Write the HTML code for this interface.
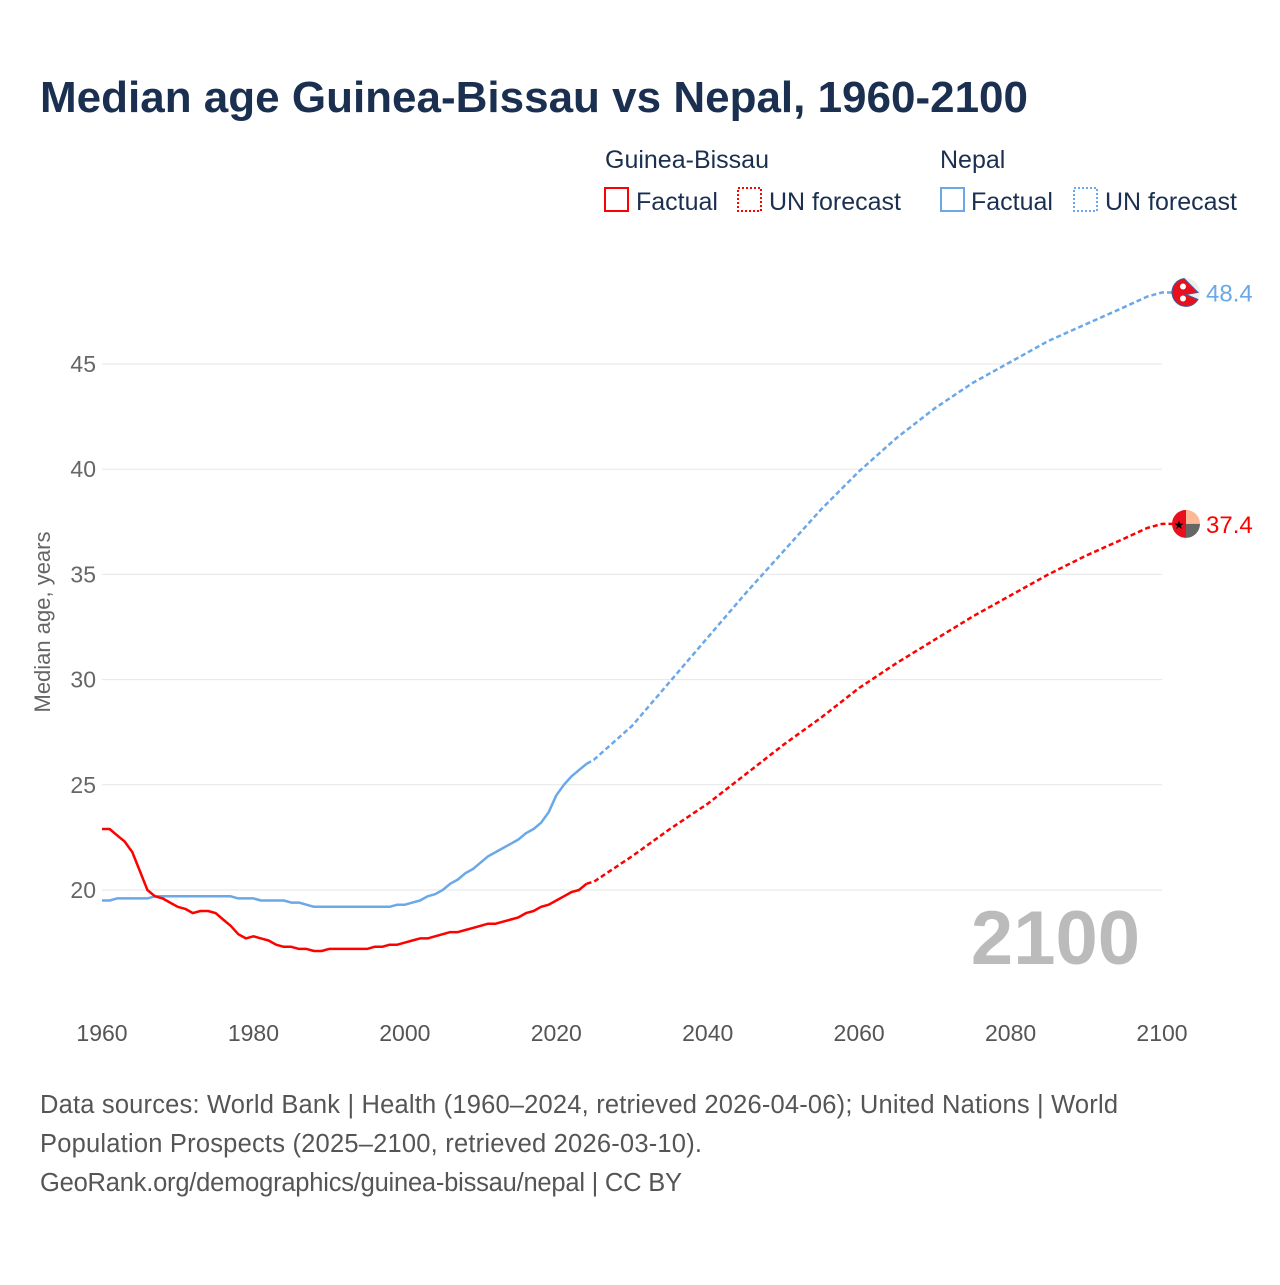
<!DOCTYPE html>
<html><head><meta charset="utf-8"><style>
body{margin:0;background:#fff;font-family:"Liberation Sans",sans-serif;}
</style></head><body>
<svg width="1280" height="1280" xmlns="http://www.w3.org/2000/svg" font-family="Liberation Sans, sans-serif">
<rect width="1280" height="1280" fill="#fff"/>
<text x="40" y="112" font-size="44" font-weight="bold" fill="#1b3050">Median age Guinea-Bissau vs Nepal, 1960-2100</text>
<g font-size="25" fill="#1b3050">
<text x="605" y="168">Guinea-Bissau</text>
<text x="940" y="168">Nepal</text>
<rect x="605" y="188" width="23" height="23" fill="none" stroke="#f00" stroke-width="2"/>
<text x="636" y="210">Factual</text>
<rect x="738" y="188" width="23" height="23" fill="none" stroke="#f00" stroke-width="2" stroke-dasharray="2,2"/>
<text x="769" y="210">UN forecast</text>
<rect x="941" y="188" width="23" height="23" fill="none" stroke="#6aa8e8" stroke-width="2"/>
<text x="971" y="210">Factual</text>
<rect x="1074" y="188" width="23" height="23" fill="none" stroke="#6aa8e8" stroke-width="2" stroke-dasharray="2,2"/>
<text x="1105" y="210">UN forecast</text>
</g>
<g id="grid"></g>
<g id="series"></g>
<text x="1140" y="964" font-size="76" font-weight="bold" fill="#bbb" text-anchor="end">2100</text>
<text transform="translate(50,622) rotate(-90)" font-size="22" fill="#666" text-anchor="middle">Median age, years</text>
<g font-size="25.5" fill="#555">
<text x="40" y="1113" textLength="1078">Data sources: World Bank | Health (1960–2024, retrieved 2026-04-06); United Nations | World</text>
<text x="40" y="1152" textLength="662">Population Prospects (2025–2100, retrieved 2026-03-10).</text>
<text x="40" y="1191" textLength="642">GeoRank.org/demographics/guinea-bissau/nepal | CC BY</text>
</g>
</svg>
<script>
const xTicks=[1960,1980,2000,2020,2040,2060,2080,2100];
const yTicks=[20,25,30,35,40,45];
const gbFactYears=[];for(let y=1960;y<=2024;y++)gbFactYears.push(y);
const gbFact=[22.9,22.9,22.6,22.3,21.8,20.9,20.0,19.7,19.6,19.4,19.2,19.1,18.9,19.0,19.0,18.9,18.6,18.3,17.9,17.7,17.8,17.7,17.6,17.4,17.3,17.3,17.2,17.2,17.1,17.1,17.2,17.2,17.2,17.2,17.2,17.2,17.3,17.3,17.4,17.4,17.5,17.6,17.7,17.7,17.8,17.9,18.0,18.0,18.1,18.2,18.3,18.4,18.4,18.5,18.6,18.7,18.9,19.0,19.2,19.3,19.5,19.7,19.9,20.0,20.3];
const npFact=[19.5,19.5,19.6,19.6,19.6,19.6,19.6,19.7,19.7,19.7,19.7,19.7,19.7,19.7,19.7,19.7,19.7,19.7,19.6,19.6,19.6,19.5,19.5,19.5,19.5,19.4,19.4,19.3,19.2,19.2,19.2,19.2,19.2,19.2,19.2,19.2,19.2,19.2,19.2,19.3,19.3,19.4,19.5,19.7,19.8,20.0,20.3,20.5,20.8,21.0,21.3,21.6,21.8,22.0,22.2,22.4,22.7,22.9,23.2,23.7,24.5,25.0,25.4,25.7,26.0];
const fcYears=[2024,2025,2030,2035,2040,2045,2050,2055,2060,2065,2070,2075,2080,2085,2090,2095,2098,2100];
const gbFc=[20.3,20.4,21.6,22.9,24.1,25.5,26.9,28.2,29.6,30.8,31.9,33.0,34.0,35.0,35.9,36.7,37.2,37.4];
const npFc=[26.0,26.2,27.8,29.9,32.0,34.1,36.1,38.1,39.9,41.5,42.9,44.1,45.1,46.1,46.9,47.7,48.2,48.4];
const NS='http://www.w3.org/2000/svg';
const X=yr=>102+(yr-1960)*1060/140;
const Y=v=>890-(v-20)*21.04;
function mk(t,a,p){const e=document.createElementNS(NS,t);for(const k in a)e.setAttribute(k,a[k]);p.appendChild(e);return e;}
const grid=document.getElementById('grid');
yTicks.forEach(v=>{
 const l=mk('line',{x1:102,x2:1162,y1:Y(v),y2:Y(v),stroke:'#e6e6e6','stroke-width':1},grid);
 
 
 const t=mk('text',{x:96,y:Y(v)+8,'font-size':23,fill:'#666','text-anchor':'end'},grid);t.textContent=v;
 
 
});
xTicks.forEach(v=>{
 const t=mk('text',{x:X(v),y:1041,'font-size':23,fill:'#555','text-anchor':'middle'},grid);t.textContent=v;
 
 
});
const ser=document.getElementById('series');
function line(xs,vs,col,dash,name,ext){
 let d=xs.map((x,i)=>(i?'L':'M')+X(x).toFixed(1)+','+Y(vs[i]).toFixed(1)).join('');
 if(ext)d+='L1176,'+Y(vs[vs.length-1]).toFixed(1);
 const p=mk('path',{d:d,fill:'none',stroke:col,'stroke-width':2.5,'stroke-linejoin':'round'},ser);
 if(dash)p.setAttribute('stroke-dasharray','5,3');
 
 
}
line(gbFactYears,npFact,'#6aa8e8',false,'nepal-factual-line');
line(gbFactYears,gbFact,'#ff0000',false,'guinea-bissau-factual-line');
line(fcYears,npFc,'#6aa8e8',true,'nepal-forecast-line',true);
line(fcYears,gbFc,'#ff0000',true,'guinea-bissau-forecast-line',true);
function endMark(v,col,name,np){
 const cx=1186,cy=Y(v);
 const g=mk('g',{},ser);
 
 
 if(np){
  mk('circle',{cx:cx,cy:cy,r:14,fill:'#eeeeee'},g);
  mk('path',{d:`M${cx-2},${cy-14} A14,14 0 1,0 ${cx+12},${cy+7} L${cx},${cy+2} L${cx+12},${cy} Z`,fill:'#e8101c',stroke:'#3a5fa0','stroke-width':1},g);
  mk('circle',{cx:cx-3,cy:cy-6,r:3,fill:'#fff'},g);
  mk('circle',{cx:cx-3,cy:cy+6,r:3,fill:'#fff'},g);
 }else{
  mk('path',{d:`M${cx},${cy-14} A14,14 0 0,0 ${cx},${cy+14} Z`,fill:'#e8101c'},g);
  mk('path',{d:`M${cx},${cy-14} A14,14 0 0,1 ${cx+14},${cy} L${cx},${cy} Z`,fill:'#fdb896'},g);
  mk('path',{d:`M${cx+14},${cy} A14,14 0 0,1 ${cx},${cy+14} L${cx},${cy} Z`,fill:'#666'},g);
  const s=mk('text',{x:cx-7,y:cy+5,'font-size':12,fill:'#000','text-anchor':'middle'},g);s.textContent='★';
 }
 const t=mk('text',{x:1206,y:cy+9,'font-size':24,fill:col},ser);t.textContent=v.toFixed(1);
 
 
}
endMark(npFc[npFc.length-1],'#6aa8e8','nepal',true);
endMark(gbFc[gbFc.length-1],'#ff0000','guinea-bissau',false);
</script>
</body></html>
